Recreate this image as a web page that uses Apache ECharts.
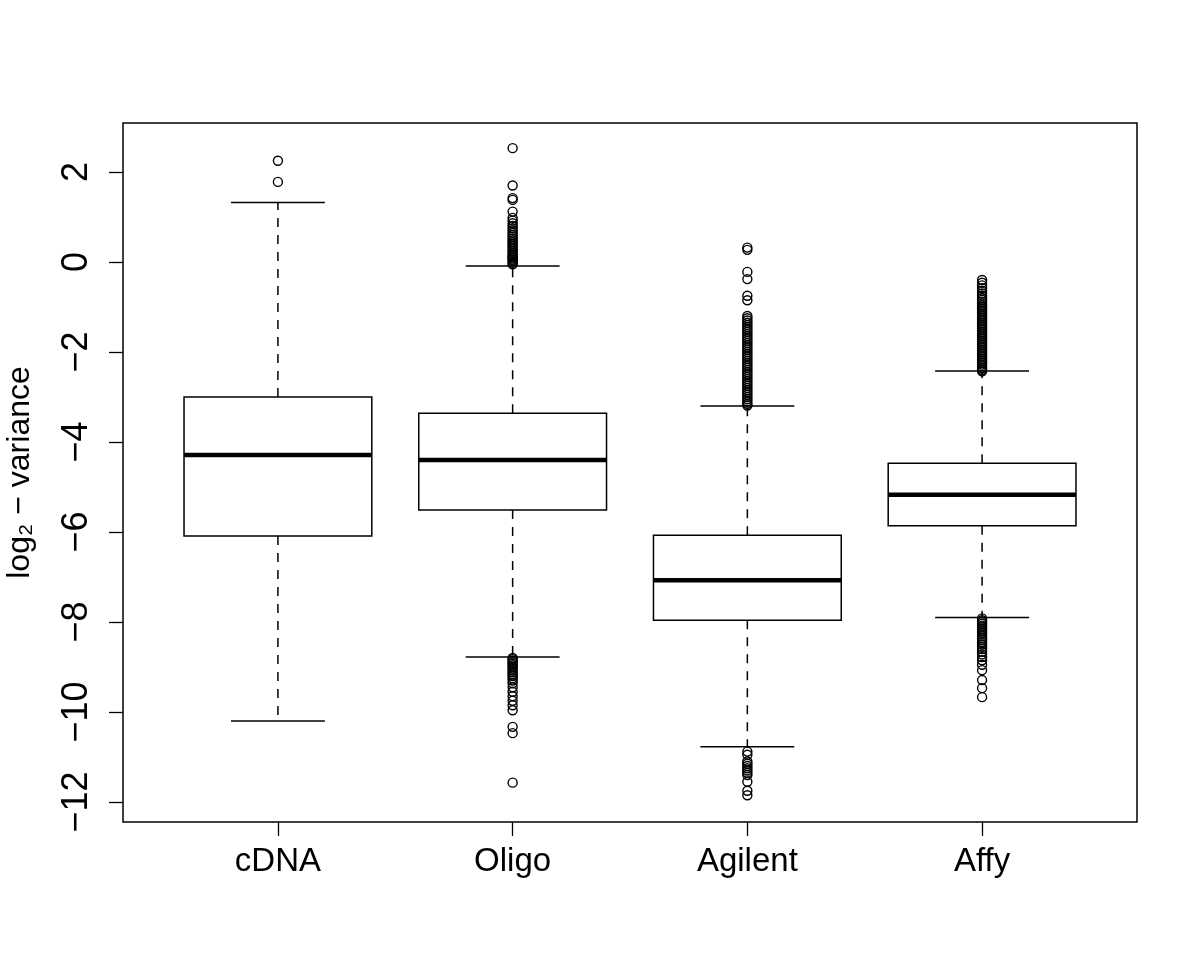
<!DOCTYPE html>
<html><head><meta charset="utf-8">
<script src="https://cdn.jsdelivr.net/npm/echarts@6/dist/echarts.min.js"></script>
<style>html,body{margin:0;padding:0;background:#fff}#chart{width:1200px;height:975px}</style>
</head><body><div id="chart"></div>
<script>
const categories = ['cDNA', 'Oligo', 'Agilent', 'Affy'];
const lowerWhisker = [-10.20, -8.78, -10.77, -7.90];
const lowerHinge   = [-6.09, -5.51, -7.96, -5.86];
const medians      = [-4.29, -4.40, -7.07, -5.17];
const upperHinge   = [-3.00, -3.36, -6.07, -4.47];
const upperWhisker = [1.32, -0.09, -3.20, -2.42];

const outliersCDNA = [2.25, 1.78];
const outliersOligo = [-0.05, -0.02, 0.02, 0.05, 0.08, 0.1, 0.13, 0.16, 0.2, 0.24, 0.28, 0.32, 0.36, 0.4, 0.44, 0.48, 0.52, 0.56, 0.6, 0.65, 0.7, 0.75, 0.8, 0.86, 0.92, 0.98, 1.12, 1.38, 1.42, 1.7, 2.53,
  -8.8, -8.83, -8.86, -8.9, -8.93, -8.96, -9.0, -9.04, -9.08, -9.12, -9.16, -9.2, -9.25, -9.3, -9.36, -9.45, -9.55, -9.65, -9.75, -9.85, -9.96, -10.33, -10.47, -11.57];
const outliersAgilent = [-3.19, -3.15, -3.1, -3.05, -3.0, -2.95, -2.9, -2.85, -2.8, -2.75, -2.7, -2.65, -2.6, -2.55, -2.5, -2.45, -2.4, -2.35, -2.3, -2.25, -2.2, -2.15, -2.1, -2.05, -2.0, -1.95, -1.9, -1.85, -1.8, -1.75, -1.7, -1.65, -1.6, -1.55, -1.5, -1.45, -1.4, -1.35, -1.3, -1.25, -1.2, -0.85, -0.75, -0.38, -0.22, 0.27, 0.32,
  -10.88, -10.95, -11.1, -11.15, -11.2, -11.25, -11.3, -11.35, -11.4, -11.55, -11.75, -11.85];
const outliersAffy = [-2.43, -2.4, -2.36, -2.32, -2.28, -2.24, -2.2, -2.16, -2.12, -2.08, -2.04, -2.0, -1.96, -1.92, -1.88, -1.84, -1.8, -1.76, -1.72, -1.68, -1.64, -1.6, -1.56, -1.52, -1.48, -1.44, -1.4, -1.36, -1.32, -1.28, -1.24, -1.2, -1.16, -1.12, -1.08, -1.04, -1.0, -0.96, -0.92, -0.88, -0.84, -0.8, -0.75, -0.7, -0.64, -0.58, -0.52, -0.46, -0.4,
  -7.92, -7.96, -8.0, -8.04, -8.08, -8.12, -8.16, -8.2, -8.24, -8.28, -8.32, -8.36, -8.4, -8.45, -8.5, -8.55, -8.6, -8.66, -8.72, -8.78, -8.85, -8.95, -9.07, -9.29, -9.47, -9.67];

const yTicks = [-12, -10, -8, -6, -4, -2, 0, 2];
const xTicks = [1, 2, 3, 4];
const yAxisTitle = 'log\u2082 \u2212 variance';

const FONT = 'Liberation Sans, Arial, Helvetica, sans-serif';
const outlierGroups = [outliersCDNA, outliersOligo, outliersAgilent, outliersAffy];

const boxData = categories.map((c, i) => [i + 1, lowerWhisker[i], lowerHinge[i], medians[i], upperHinge[i], upperWhisker[i]]);
const outlierData = [];
outlierGroups.forEach((g, i) => g.forEach(v => outlierData.push([i + 1, v])));

const chart = echarts.init(document.getElementById('chart'), null, {renderer: 'canvas'});
const dash = {stroke: '#000', lineWidth: 1.5, lineDash: [9, 8]};
const solid = {stroke: '#000', lineWidth: 1.5};

chart.setOption({
  animation: false,
  backgroundColor: '#fff',
  grid: {left: 123, right: 63, top: 123, bottom: 153, show: true, borderColor: '#000', borderWidth: 1.5, backgroundColor: 'transparent', containLabel: false, outerBoundsMode: 'none'},
  xAxis: {
    type: 'value', min: 0.34, max: 4.66,
    axisLine: {show: false, onZero: false},
    splitLine: {show: false},
    axisTick: {show: true, customValues: xTicks, length: 14, lineStyle: {color: '#000', width: 1.3}},
    axisLabel: {customValues: xTicks, formatter: v => categories[Math.round(v) - 1], fontSize: 33, color: '#000', margin: 23, fontFamily: FONT}
  },
  yAxis: {
    type: 'value', min: -12.444, max: 3.089,
    axisLine: {show: false, onZero: false},
    splitLine: {show: false},
    axisTick: {show: true, customValues: yTicks, length: 14, lineStyle: {color: '#000', width: 1.3}},
    axisLabel: {customValues: yTicks, formatter: v => String(v).replace('-', '\u2212'), rotate: 90, fontSize: 36, color: '#000', margin: 28, fontFamily: FONT},
    name: yAxisTitle, nameLocation: 'middle', nameGap: 87, nameRotate: 90,
    nameTextStyle: {fontSize: 32, color: '#000', fontFamily: FONT}
  },
  series: [
    {
      type: 'custom',
      data: boxData,
      encode: {x: 0, y: [1, 2, 3, 4, 5]},
      z: 2,
      renderItem: function (params, api) {
        const x = api.value(0);
        const lo = api.coord([x, api.value(1)]);
        const q1 = api.coord([x, api.value(2)]);
        const md = api.coord([x, api.value(3)]);
        const q3 = api.coord([x, api.value(4)]);
        const hi = api.coord([x, api.value(5)]);
        const bw = api.size([0.8, 0])[0];
        const sw = api.size([0.4, 0])[0];
        const cx = lo[0];
        return {
          type: 'group',
          children: [
            {type: 'line', shape: {x1: cx, y1: q3[1], x2: cx, y2: hi[1]}, style: dash},
            {type: 'line', shape: {x1: cx, y1: q1[1], x2: cx, y2: lo[1]}, style: dash},
            {type: 'line', shape: {x1: cx - sw / 2, y1: hi[1], x2: cx + sw / 2, y2: hi[1]}, style: solid},
            {type: 'line', shape: {x1: cx - sw / 2, y1: lo[1], x2: cx + sw / 2, y2: lo[1]}, style: solid},
            {type: 'rect', shape: {x: cx - bw / 2, y: q3[1], width: bw, height: q1[1] - q3[1]}, style: {fill: '#fff', stroke: '#000', lineWidth: 1.5}},
            {type: 'line', shape: {x1: cx - bw / 2, y1: md[1], x2: cx + bw / 2, y2: md[1]}, style: {stroke: '#000', lineWidth: 4.5}}
          ]
        };
      }
    },
    {
      type: 'scatter',
      data: outlierData,
      z: 3,
      symbol: 'circle',
      symbolSize: 9,
      itemStyle: {color: 'transparent', borderColor: '#000', borderWidth: 1.4, opacity: 1},
      emphasis: {disabled: true}
    }
  ]
});
</script>
</body></html>
